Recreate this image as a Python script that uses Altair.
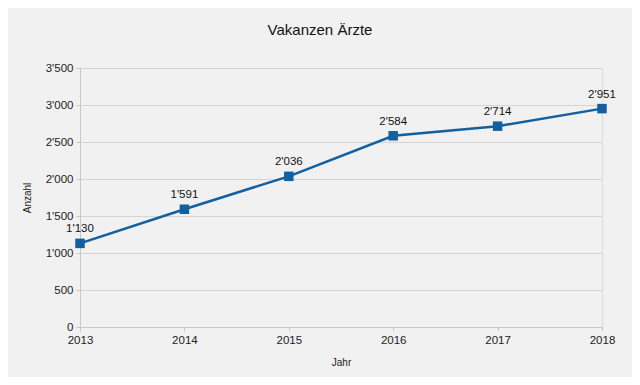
import altair as alt
import pandas as pd

years = [2013, 2014, 2015, 2016, 2017, 2018]
values = [1130, 1591, 2036, 2584, 2714, 2951]
y_ticks = [0, 500, 1000, 1500, 2000, 2500, 3000, 3500]

df = pd.DataFrame({"Jahr": years, "Anzahl": values})
df["label"] = [f"{v:,}".replace(",", "'") for v in values]

FONT = "Liberation Sans"
BLUE = "#12609f"

base = alt.Chart(df).encode(
    x=alt.X("Jahr:Q",
            scale=alt.Scale(domain=[2013, 2018], nice=False, zero=False),
            axis=alt.Axis(values=years, format="d", title="Jahr", grid=False,
                          labelFlush=False, labelBound=False,
                          tickSize=4, tickColor="#c8c8c8", domainColor="#c8c8c8",
                          labelFontSize=11.5, labelColor="#222", labelPadding=3,
                          titleFontSize=10, titleFontWeight="normal", titleColor="#222",
                          titlePadding=12)),
    y=alt.Y("Anzahl:Q",
            scale=alt.Scale(domain=[0, 3500], nice=False),
            axis=alt.Axis(values=y_ticks, title="Anzahl", grid=True, gridColor="#d4d4d4",
                          tickSize=4, tickColor="#c8c8c8", domainColor="#c8c8c8",
                          labelExpr="replace(format(datum.value, ','), ',', \"'\")",
                          labelFontSize=11.5, labelColor="#222", labelPadding=3,
                          titleFontSize=10, titleFontWeight="normal", titleColor="#222",
                          titlePadding=13)),
)

line = base.mark_line(color=BLUE, strokeWidth=2.5)
points = base.mark_square(color=BLUE, size=90, opacity=1, filled=True)
labels = base.mark_text(dy=-14, fontSize=11.5, color="#111", font=FONT).encode(text="label:N")

chart = (line + points + labels).properties(
    width=522, height=259,
    background="#f1f1f1",
    padding={"left": 72, "top": 60, "right": 30, "bottom": 50},
    autosize=alt.AutoSizeParams(type="none"),
    title=alt.TitleParams("Vakanzen Ärzte", fontSize=15, fontWeight="normal",
                          font=FONT, color="#111", anchor="middle", dx=-21, offset=24),
).configure_view(stroke="#d0d0d0", strokeWidth=1).configure(font=FONT)

chart.save("out.html", embed_options={"renderer": "svg", "actions": False})
